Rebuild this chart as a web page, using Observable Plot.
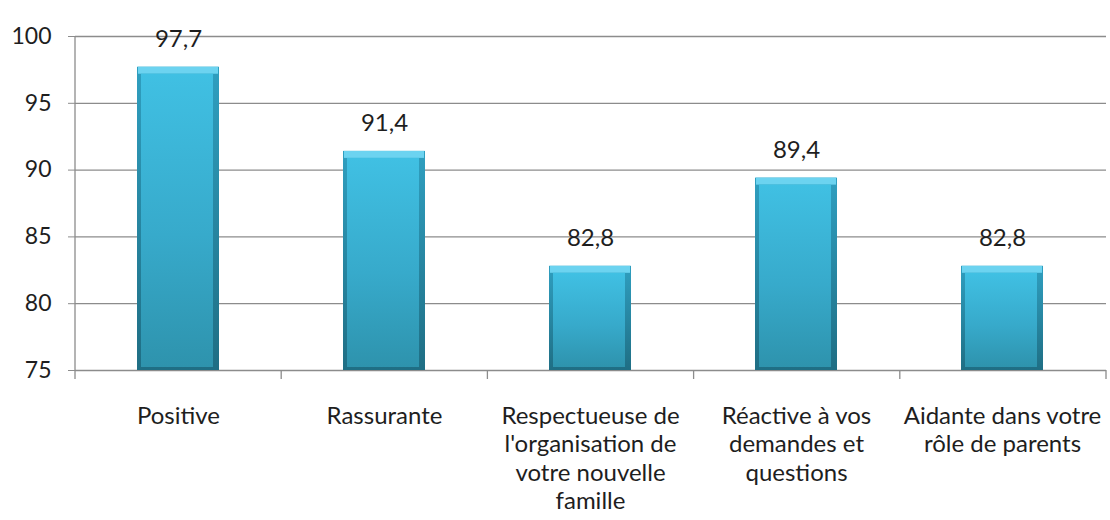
<!DOCTYPE html>
<html>
<head>
<meta charset="utf-8">
<script src="https://cdn.jsdelivr.net/npm/d3@7"></script>
<script src="https://cdn.jsdelivr.net/npm/@observablehq/plot@0.6"></script>
<style>
  html, body { margin: 0; padding: 0; background: #ffffff; }
  #chart { width: 1110px; height: 520px; }
</style>
</head>
<body>
<div id="chart"></div>
<script>
const categories = [
  "Positive",
  "Rassurante",
  "Respectueuse de l'organisation de votre nouvelle famille",
  "Réactive à vos demandes et questions",
  "Aidante dans votre rôle de parents"
];
const tickLabels = [
  "Positive",
  "Rassurante",
  "Respectueuse de\nl'organisation de\nvotre nouvelle\nfamille",
  "Réactive à vos\ndemandes et\nquestions",
  "Aidante dans votre\nrôle de parents"
];
const values = [97.7, 91.4, 82.8, 89.4, 82.8];
const valueLabels = ["97,7", "91,4", "82,8", "89,4", "82,8"];
const yDomain = [75, 100];
const yTicks = [75, 80, 85, 90, 95, 100];

const data = categories.map((c, i) => ({cat: c, value: values[i], label: valueLabels[i]}));
const labelOf = new Map(categories.map((c, i) => [c, tickLabels[i]]));

const W = 1110, H = 520;
const mL = 75, mR = 4, mT = 36, mB = 150;
const font = "Lato, 'Open Sans', sans-serif";

// left axis line and category separator ticks, derived from the plot layout
function axisLines(index, scales, values, dimensions) {
  const {width, marginLeft, marginRight, height, marginBottom, marginTop} = dimensions;
  const n = categories.length;
  const step = (width - marginLeft - marginRight) / n;
  const y0 = height - marginBottom;
  const g = d3.create("svg:g").attr("stroke", "#8c8c8c").attr("stroke-width", 1.3);
  g.append("line").attr("x1", marginLeft).attr("x2", marginLeft).attr("y1", marginTop).attr("y2", y0);
  for (let i = 0; i <= n; i++) {
    const x = marginLeft + i * step;
    g.append("line").attr("x1", x).attr("x2", x).attr("y1", y0).attr("y2", y0 + 9);
  }
  return g.node();
}

const plot = Plot.plot({
  width: W,
  height: H,
  marginLeft: mL,
  marginRight: mR,
  marginTop: mT,
  marginBottom: mB,
  style: {fontFamily: font, background: "transparent"},
  x: {domain: categories, paddingInner: 0.6, paddingOuter: 0.3, label: null},
  y: {domain: yDomain, label: null},
  marks: [
    Plot.ruleY(yTicks, {stroke: "#8c8c8c", strokeWidth: 1.3}),
    axisLines,
    Plot.axisY({ticks: yTicks, tickSize: 7, tickPadding: 17, stroke: "#8c8c8c", fontSize: 23, fill: "#1e1e1e", label: null}),
    Plot.axisX({tickSize: 0, tickPadding: 33, fontSize: 24, fill: "#1e1e1e", lineHeight: 1.19,
      tickFormat: d => labelOf.get(d), label: null}),
    // outer (edge) bar with shadow
    Plot.barY(data, {x: "cat", y1: yDomain[0], y2: "value", fill: "url(#edgeGrad)", ariaLabel: "bar-edge"}),
    // top bevel highlight
    Plot.barY(data, {x: "cat", y1: "value", y2: "value", insetBottom: -7, insetLeft: 1, insetRight: 1, fill: "#6cd3f0", ariaLabel: "bar-top"}),
    // body
    Plot.barY(data, {x: "cat", y1: yDomain[0], y2: "value", insetLeft: 4, insetRight: 6, insetTop: 7, insetBottom: 3, fill: "url(#bodyGrad)", ariaLabel: "bar-body"}),
    Plot.text(data, {x: "cat", y: "value", text: "label", dy: -28, fontSize: 24, fill: "#1e1e1e"})
  ]
});

// gradients and shadow
const svg = d3.select(plot);
const defs = svg.insert("defs", ":first-child");
const body = defs.append("linearGradient").attr("id", "bodyGrad").attr("x1", 0).attr("y1", 0).attr("x2", 0).attr("y2", 1);
body.append("stop").attr("offset", "0%").attr("stop-color", "#40c0e3");
body.append("stop").attr("offset", "55%").attr("stop-color", "#37aacb");
body.append("stop").attr("offset", "100%").attr("stop-color", "#2e93ad");
const edge = defs.append("linearGradient").attr("id", "edgeGrad").attr("x1", 0).attr("y1", 0).attr("x2", 0).attr("y2", 1);
edge.append("stop").attr("offset", "0%").attr("stop-color", "#2f9fc0");
edge.append("stop").attr("offset", "100%").attr("stop-color", "#1f6e84");
const f = defs.append("filter").attr("id", "shadow").attr("x", "-20%").attr("y", "-20%").attr("width", "140%").attr("height", "140%");
f.append("feDropShadow").attr("dx", 2).attr("dy", 3).attr("stdDeviation", 2.5).attr("flood-color", "#000").attr("flood-opacity", 0.35);
svg.selectAll("g[aria-label='bar-edge'] rect").attr("filter", "url(#shadow)");

document.getElementById("chart").appendChild(plot);
</script>
</body>
</html>
